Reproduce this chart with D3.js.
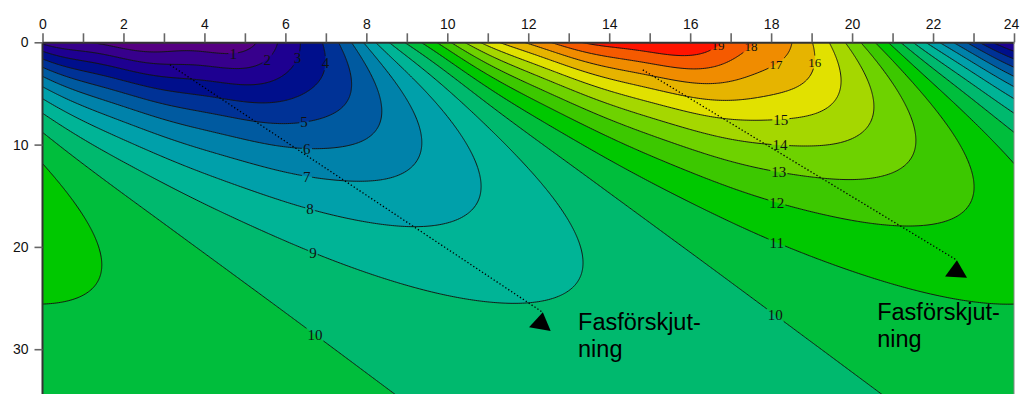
<!DOCTYPE html>
<html>
<head>
<meta charset="utf-8">
<script src="https://cdn.jsdelivr.net/npm/d3@7"></script>
<style>
  body { margin: 0; background: #fff; }
  svg { display: block; }
</style>
</head>
<body>
<svg id="chart" width="1020" height="394"></svg>
<script>
// Hour of day and the surface temperature (°C) over one daily cycle
const hours = [0, 1, 2, 3, 4, 5, 6, 7, 8, 9, 10, 11, 12, 13, 14, 15, 16, 17, 18, 19, 20, 21, 22, 23];
const surfaceTemp = [1.8, 1.0, 0.4, 0.2, 0.35, 0.5, 2.4, 4.15, 7.3, 10.1, 12.8, 15.4,
                     17.2, 18.6, 19.5, 19.85, 20.0, 18.65, 17.7, 16.0, 13.6, 10.6, 7.5, 4.4];
// Soil parameters (cm): amplitude damping depth and phase-lag depth
const dampingDepth = 10.9;
const lagDepth = 11.3;

// Isotherm levels and the fill colour of each 1-degree band (band i = i..i+1 °C)
const levels = [1, 2, 3, 4, 5, 6, 7, 8, 9, 10, 11, 12, 13, 14, 15, 16, 17, 18, 19];
const bandColors = ["#550082", "#37008c", "#1e0091", "#000f8c", "#003296", "#005aa0",
                    "#0082aa", "#00a0aa", "#00b496", "#00b96e", "#00be3c", "#00c800",
                    "#3cc800", "#6ed200", "#a5d700", "#e1e100", "#e6b400", "#f08c00",
                    "#f55a00", "#ff1400"];

// Axis ticks
const hourTicks = [0, 1, 2, 3, 4, 5, 6, 7, 8, 9, 10, 11, 12, 13, 14, 15, 16, 17, 18, 19, 20, 21, 22, 23, 24];
const depthTicks = [0, 10, 20, 30];

// Isotherm labels: [level, approx. hour, approx. depth]; each is snapped onto its isotherm
const contourLabels = [[1, 4.71, 0.95], [2, 5.55, 1.34], [3, 6.09, 1.53], [4, 6.81, 2.02],
                       [5, 6.46, 8.1], [6, 6.53, 10.6], [7, 6.53, 13.5], [8, 6.61, 16.8],
                       [9, 6.68, 20.4], [10, 6.73, 28.4], [10, 18.1, 26.7], [11, 18.14, 19.8],
                       [12, 18.14, 16.1], [13, 18.19, 13.3], [14, 18.22, 10.5], [15, 18.24, 7.8],
                       [16, 18.79, 1.93], [17, 18.12, 1.44], [18, 17.5, 1.05], [19, 16.69, 0.75]];
const smallLabelLevels = [16, 17, 18, 19];

// Phase-shift arrows (hour, depth) and their captions
const arrowStarts = [[3.15, 2.2], [14.83, 2.7]];
const arrowEnds = [[12.36, 26.4], [22.59, 21.3]];
const arrowTilt = [10, 3];
const captionAnchors = [[13.23, 28.1], [20.62, 27.15]];
const captionLines = ["Fasförskjut-", "ning"];

// ---------------------------------------------------------------
const svg = d3.select("#chart");
const x = d3.scaleLinear().domain([0, 24]).range([42.5, 1014]);
const y = d3.scaleLinear().domain([0, 35]).range([42.3, 42.3 + 35 * 10.23]);

// Periodic heat conduction: each harmonic of the surface cycle is damped
// and delayed with depth in proportion to sqrt(n).
const omega = 2 * Math.PI / 24;
const N = surfaceTemp.length;
const meanTemp = d3.mean(surfaceTemp);
const harmonics = d3.range(1, 12).map(n => {
  let a = 0, b = 0;
  hours.forEach((h, i) => {
    a += surfaceTemp[i] * Math.cos(n * omega * h);
    b += surfaceTemp[i] * Math.sin(n * omega * h);
  });
  return { n, a: 2 * a / N, b: 2 * b / N,
           kd: Math.sqrt(n) / dampingDepth, kl: Math.sqrt(n) / lagDepth };
});

function temperature(t, z) {
  z = Math.max(0, z);
  let T = meanTemp;
  for (const h of harmonics) {
    const ph = h.n * omega * t - h.kl * z;
    T += Math.exp(-h.kd * z) * (h.a * Math.cos(ph) + h.b * Math.sin(ph));
  }
  return T;
}

// Sample the field on a grid slightly larger than the plot
const dt = 0.05, dz = 0.1, t0 = -0.5, z0 = -0.5;
const nx = Math.round(25 / dt) + 1, nz = Math.round(36.5 / dz) + 1;
const grid = new Float64Array(nx * nz);
for (let j = 0; j < nz; j++)
  for (let i = 0; i < nx; i++)
    grid[j * nx + i] = temperature(t0 + i * dt, z0 + j * dz);

const polys = d3.contours().size([nx, nz]).thresholds([-50, ...levels])(grid);
const proj = d3.geoTransform({
  point(px, py) { this.stream.point(x(t0 + (px - 0.5) * dt), y(z0 + (py - 0.5) * dz)); }
});
const path = d3.geoPath(proj);

const defs = svg.append("defs");
defs.append("clipPath").attr("id", "plotClip")
  .append("rect")
  .attr("x", x(0)).attr("y", y(0))
  .attr("width", x(24) - x(0)).attr("height", 394 - y(0));

// Filled bands
const plot = svg.append("g").attr("clip-path", "url(#plotClip)");
plot.append("g").selectAll("path")
  .data(polys)
  .join("path")
  .attr("d", path)
  .attr("fill", (d, i) => bandColors[i])
  .attr("stroke", (d, i) => bandColors[i])
  .attr("stroke-width", 0.3);

// Snap a label onto its isotherm: nearest crossing along the row or column through the hint
function snapToIsotherm(v, t, z) {
  let best = null;
  const consider = (tt, zz) => {
    const d = Math.hypot(x(tt) - x(t), y(zz) - y(z));
    if (!best || d < best.d) best = { t: tt, z: zz, d };
  };
  const march = (dirT, dirZ, steps, size) => {
    let pt = t, pz = z, prev = temperature(t, z) - v;
    for (let s = 1; s <= steps; s++) {
      const ct = t + dirT * size * s, cz = z + dirZ * size * s;
      if (cz < 0 || cz > 35) break;
      const cur = temperature(ct, cz) - v;
      if (prev * cur <= 0) {
        const f = prev / (prev - cur || 1);
        consider(pt + (ct - pt) * f, pz + (cz - pz) * f);
        break;
      }
      prev = cur; pt = ct; pz = cz;
    }
  };
  march(1, 0, 200, 0.01); march(-1, 0, 200, 0.01);
  march(0, 1, 300, 0.02); march(0, -1, 300, 0.02);
  return best;
}
const labelData = contourLabels
  .map(([v, t, z]) => ({ v, p: snapToIsotherm(v, t, z) }))
  .filter(d => d.p !== null);

const labelG = svg.append("g").attr("clip-path", "url(#plotClip)");
const labelText = labelG.selectAll("text")
  .data(labelData)
  .join("text")
  .attr("x", d => x(d.p.t))
  .attr("y", d => y(d.p.z))
  .attr("dy", "0.35em")
  .attr("text-anchor", "middle")
  .attr("font-family", "'Liberation Serif', 'DejaVu Serif', serif")
  .attr("font-size", d => smallLabelLevels.includes(d.v) ? 13 : 15)
  .attr("fill", "#111")
  .text(d => d.v);

// Gaps in the isotherm lines behind each label
const mask = defs.append("mask").attr("id", "labelGaps").attr("maskUnits", "userSpaceOnUse")
  .attr("x", 0).attr("y", 0).attr("width", 1020).attr("height", 394);
mask.append("rect").attr("width", 1020).attr("height", 394).attr("fill", "#fff");
labelText.each(function () {
  const b = this.getBBox();
  mask.append("rect")
    .attr("x", b.x - 1).attr("y", b.y + 1)
    .attr("width", b.width + 2).attr("height", b.height - 2)
    .attr("fill", "#000");
});

// Isotherm lines
plot.append("g").attr("mask", "url(#labelGaps)")
  .selectAll("path")
  .data(polys.slice(1))
  .join("path")
  .attr("d", path)
  .attr("fill", "none")
  .attr("stroke", "#141414")
  .attr("stroke-width", 0.95);

labelG.raise();

// Phase-shift arrows
const arrowG = svg.append("g");
arrowStarts.forEach((s, i) => {
  const e = arrowEnds[i];
  arrowG.append("line")
    .attr("x1", x(s[0])).attr("y1", y(s[1]))
    .attr("x2", x(e[0])).attr("y2", y(e[1]))
    .attr("stroke", "#000").attr("stroke-width", 1.3)
    .attr("stroke-dasharray", "1.3 2.2");
  const ax = x(e[0]), ay = y(e[1]);
  arrowG.append("path")
    .attr("d", "M0,0 L-11,17 L11,17 Z")
    .attr("transform", `translate(${ax},${ay}) rotate(${arrowTilt[i]})`)
    .attr("fill", "#000");
});

// Captions
captionAnchors.forEach(([t, z]) => {
  const txt = svg.append("text")
    .attr("x", x(t)).attr("y", y(z))
    .attr("font-family", "'Liberation Sans', Arial, sans-serif")
    .attr("font-size", 23.5)
    .attr("fill", "#000");
  captionLines.forEach((line, k) => {
    txt.append("tspan").attr("x", x(t)).attr("dy", k === 0 ? 0 : 27).text(line);
  });
});

// Axes
const topAxis = svg.append("g")
  .attr("transform", `translate(0,${y(0)})`)
  .call(d3.axisTop(x).tickValues(hourTicks).tickSize(9).tickSizeOuter(0).tickPadding(4)
    .tickFormat(d => d % 2 === 0 ? d : ""));
const leftAxis = svg.append("g")
  .attr("transform", `translate(${x(0)},0)`)
  .call(d3.axisLeft(y).tickValues(depthTicks).tickSize(8).tickSizeOuter(0).tickPadding(6));
[topAxis, leftAxis].forEach(g => {
  g.select(".domain").attr("stroke", "#333").attr("stroke-width", 2);
  g.selectAll(".tick line").attr("stroke", "#666").attr("stroke-width", 1.6);
  g.selectAll(".tick text")
    .attr("font-family", "'Liberation Sans', Arial, sans-serif")
    .attr("font-size", 14).attr("fill", "#111");
});
topAxis.selectAll(".tick text").filter(d => d === 24).attr("dx", -3);
leftAxis.select(".domain").attr("d", `M0,${y(0)}V394`);

// Right frame edge
svg.append("line")
  .attr("x1", x(24)).attr("x2", x(24)).attr("y1", y(0)).attr("y2", 394)
  .attr("stroke", "#888").attr("stroke-width", 1);
</script>
</body>
</html>
